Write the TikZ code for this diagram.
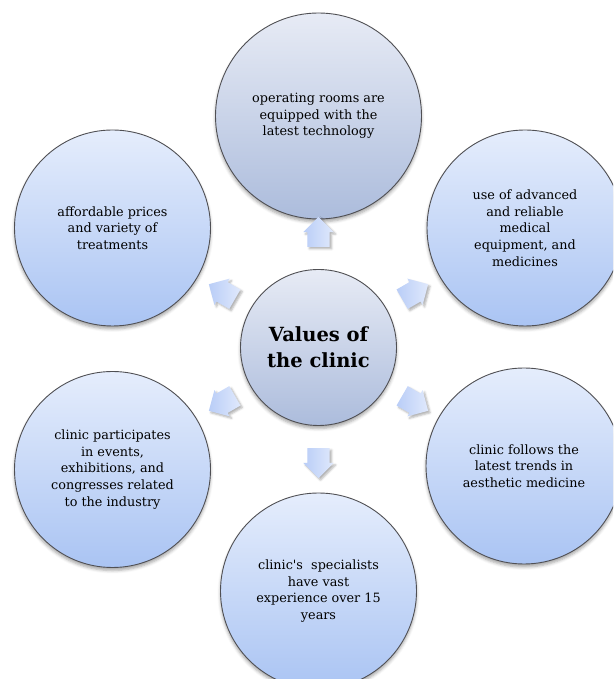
\documentclass[tikz,border=0pt]{standalone}
\usepackage{fontspec}
\setmainfont{DejaVu Serif}
\usetikzlibrary{shapes.arrows,shadows.blur}
\definecolor{graytop}{RGB}{231,235,245}
\definecolor{graybot}{RGB}{172,188,220}
\definecolor{bluetop}{RGB}{229,237,252}
\definecolor{bluebot}{RGB}{170,196,243}
\definecolor{rimcol}{RGB}{80,80,84}
\definecolor{arrtip}{RGB}{224,233,252}
\definecolor{arrtail}{RGB}{185,205,247}
\tikzset{
  bubble/.style={circle, draw=rimcol, line width=0.9pt, inner sep=0pt, align=center,
    top color=bluetop, bottom color=bluebot, text=black,
    font=\fontsize{12.8}{16.7}\selectfont,
    blur shadow={shadow xshift=0pt, shadow yshift=-3pt, shadow blur radius=3pt, shadow opacity=35}},
  graybubble/.style={bubble, top color=graytop, bottom color=graybot},
  hub/.style={graybubble, minimum size=156pt, font=\fontsize{19.5}{26}\selectfont\bfseries},
  outer/.style={bubble, minimum size=196pt},
  blockarrow/.style={single arrow, draw=none, inner xsep=0pt, inner ysep=11pt,
    minimum height=30pt, minimum width=0pt,
    single arrow head extend=4pt, single arrow tip angle=90,
    left color=arrtail, right color=arrtip,
    blur shadow={shadow xshift=2pt, shadow yshift=-2pt, shadow blur radius=2pt, shadow opacity=30}}
}
\begin{document}
\begin{tikzpicture}[x=1pt,y=1pt]
\useasboundingbox (0,0) rectangle (613,679);
\clip (0,0) rectangle (613,679);
% center hub
\node[hub] (c) at (318.5,331.5) {Values of\\the clinic};
% outer bubbles
\node[graybubble, minimum size=206pt] (top) at (318.5,563) {operating rooms are\\equipped with the\\latest technology};
\node[outer] (tr) at (525,451) {use of advanced\\and reliable\\medical\\equipment, and\\medicines};
\node[outer] (br) at (524,213) {clinic follows the\\latest trends in\\aesthetic medicine};
\node[outer] (bot) at (318.5,88) {clinic\textquotesingle s~ specialists\\have vast\\experience over 15\\years};
\node[outer] (bl) at (112.5,209.5) {clinic participates\\in events,\\exhibitions, and\\congresses related\\to the industry};
\node[outer] (tl) at (112.5,451) {affordable prices\\and variety of\\treatments};
% arrows
\node[blockarrow, rotate=90] (a1) at ([shift={(90:110)}]c) {};
\node[blockarrow, rotate=30] (a2) at ([shift={(30:106)}]c) {};
\node[blockarrow, rotate=-30] (a3) at ([shift={(-30:106)}]c) {};
\node[blockarrow, rotate=-90] (a4) at ([shift={(-90:110)}]c) {};
\node[blockarrow, rotate=-150] (a5) at ([shift={(-150:106)}]c) {};
\node[blockarrow, rotate=150] (a6) at ([shift={(150:106)}]c) {};
\end{tikzpicture}
\end{document}
